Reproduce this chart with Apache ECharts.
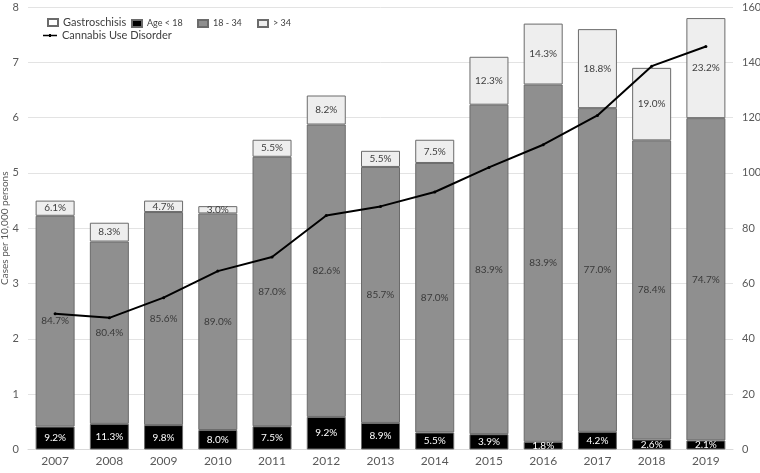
<!DOCTYPE html>
<html>
<head>
<meta charset="utf-8">
<script src="https://cdn.jsdelivr.net/npm/echarts@6/dist/echarts.min.js"></script>
<style>html,body{margin:0;padding:0;background:#fff}#c{width:760px;height:473px}</style>
</head>
<body>
<div id="c"></div>
<script>
var years = ['2007','2008','2009','2010','2011','2012','2013','2014','2015','2016','2017','2018','2019'];
var totalRate = [4.5, 4.1, 4.5, 4.4, 5.6, 6.4, 5.4, 5.6, 7.1, 7.7, 7.6, 6.9, 7.8];
var pctUnder18 = [9.2, 11.3, 9.8, 8.0, 7.5, 9.2, 8.9, 5.5, 3.9, 1.8, 4.2, 2.6, 2.1];
var pct18to34 = [84.7, 80.4, 85.6, 89.0, 87.0, 82.6, 85.7, 87.0, 83.9, 83.9, 77.0, 78.4, 74.7];
var pctOver34 = [6.1, 8.3, 4.7, 3.0, 5.5, 8.2, 5.5, 7.5, 12.3, 14.3, 18.8, 19.0, 23.2];
var cannabis = [49.1, 47.6, 54.9, 64.5, 69.6, 84.6, 87.9, 93.1, 102.0, 110.2, 120.8, 138.6, 145.7];

var under18 = totalRate.map(function(t,i){ return +(t*pctUnder18[i]/100).toFixed(4); });
var mid = totalRate.map(function(t,i){ return +(t*pct18to34[i]/100).toFixed(4); });
var over34 = totalRate.map(function(t,i){ return +(t - under18[i] - mid[i]).toFixed(4); });

var FONT = 'Lato, "Liberation Sans", sans-serif';
var border = {borderColor:'#6b6b6b', borderWidth:1};
function pctLabel(arr, color){
  return {show:true, position:'inside', color:color, fontSize:10, fontFamily:FONT,
    formatter:function(p){ return arr[p.dataIndex].toFixed(1) + '%'; }};
}
var chart = echarts.init(document.getElementById('c'));
var legendBase = {orient:'horizontal', itemGap:2, icon:'rect', itemWidth:10, itemHeight:7,
  selectedMode:false, padding:0};
chart.setOption({
  animation:false,
  textStyle:{fontFamily:FONT},
  legend:[
    Object.assign({}, legendBase, {left:47, top:17, data:['Gastroschisis'], textStyle:{fontSize:11, color:'#404040', fontFamily:FONT}}),
    Object.assign({}, legendBase, {left:131, top:19, data:['Age < 18'], textStyle:{fontSize:9, color:'#404040', fontFamily:FONT}}),
    Object.assign({}, legendBase, {left:197, top:19, data:['18 - 34'], textStyle:{fontSize:9, color:'#404040', fontFamily:FONT}}),
    Object.assign({}, legendBase, {left:257, top:19, data:['> 34'], textStyle:{fontSize:9, color:'#404040', fontFamily:FONT}}),
    {left:43, top:30, padding:0, selectedMode:false, itemWidth:14, itemHeight:7, itemGap:2,
     data:[{name:'Cannabis Use Disorder', icon:'path://M0,3 L14,3 L14,4.4 L0,4.4 Z M6,2.2 L8,2.2 L8,5.2 L6,5.2 Z'}],
     textStyle:{fontSize:11, color:'#404040', fontFamily:FONT}}
  ],
  grid:{left:28, right:27, top:7, bottom:23.5, containLabel:false, outerBoundsMode:'none'},
  xAxis:{type:'category', data:years,
    axisLine:{show:true, lineStyle:{color:'#d9d9d9'}}, axisTick:{show:false},
    axisLabel:{color:'#595959', fontSize:12, margin:6, fontFamily:FONT}},
  yAxis:[
    {type:'value', min:0, max:8, interval:1,
     name:'Cases per 10,000 persons', nameLocation:'middle', nameGap:18, nameRotate:90,
     nameMoveOverlap:false,
     nameTextStyle:{fontSize:10, color:'#595959', fontFamily:FONT},
     axisLabel:{color:'#595959', fontSize:11, margin:9, fontFamily:FONT},
     splitLine:{lineStyle:{color:'#e3e3e3'}}, axisLine:{show:false}, axisTick:{show:false}},
    {type:'value', min:0, max:160, interval:20,
     axisLabel:{color:'#595959', fontSize:11, margin:9, fontFamily:FONT},
     splitLine:{show:false}, axisLine:{show:false}, axisTick:{show:false}}
  ],
  series:[
    {name:'Gastroschisis', type:'bar', stack:'g', data:[], itemStyle:{color:'#ffffff', borderColor:'#6b6b6b', borderWidth:1}},
    {name:'Age < 18', type:'bar', stack:'g', data:under18, barWidth:39,
     itemStyle:Object.assign({color:'#000000'}, border), label:pctLabel(pctUnder18,'#ffffff')},
    {name:'18 - 34', type:'bar', stack:'g', data:mid, barWidth:39,
     itemStyle:Object.assign({color:'#8f8f8f'}, border), label:pctLabel(pct18to34,'#3a3a3a')},
    {name:'> 34', type:'bar', stack:'g', data:over34, barWidth:39,
     itemStyle:Object.assign({color:'#eeeeee'}, border), label:pctLabel(pctOver34,'#404040')},
    {name:'Cannabis Use Disorder', type:'line', yAxisIndex:1, data:cannabis,
     symbol:'circle', symbolSize:3, itemStyle:{color:'#000'},
     lineStyle:{color:'#000', width:2}, z:10}
  ]
});
</script>
</body>
</html>
